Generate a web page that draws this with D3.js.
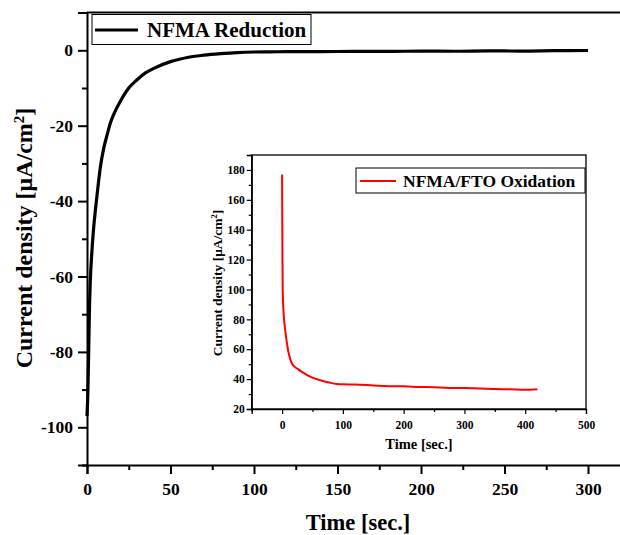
<!DOCTYPE html>
<html><head><meta charset="utf-8">
<script src="https://cdn.jsdelivr.net/npm/d3@7"></script>
<style>body{margin:0;background:#fff}svg{display:block}text{font-family:"Liberation Serif","Times New Roman",serif;font-weight:bold}</style>
</head><body><svg id="c" width="620" height="535"></svg>
<script>
// Main series: NFMA Reduction
const mainTime = [0,0.5,1,1.5,2,3,4,5,6,7,8,10,12,14,16,20,25,30,35,40,50,56,60,70,80,90,100,110,120,140,160,180,200,220,240,260,280,300];
const mainCurrent = [-97,-91,-80,-68,-61,-53,-47,-42.5,-38.5,-34.5,-31,-26,-22.5,-19.3,-17,-13.5,-10,-7.8,-6,-4.8,-3,-2.3,-1.9,-1.3,-0.9,-0.6,-0.45,-0.4,-0.35,-0.35,-0.3,-0.3,-0.2,-0.25,-0.15,-0.2,-0.1,-0.05];
const mainXTicks = [0,50,100,150,200,250,300];
const mainYTicks = [0,-20,-40,-60,-80,-100];
// Inset series: NFMA/FTO Oxidation
const insetTime = [0,0.3,0.6,1,2,3,4,6,8,10,13,16,20,25,30,40,50,60,70,80,90,100,120,150,175,200,225,250,275,300,325,350,375,400,420];
const insetCurrent = [177,150,120,100,88,81,77,70,64,59,54,50.5,48.5,47,45.5,43,41,39.6,38.4,37.5,36.8,36.5,36.4,35.8,35.3,35.2,34.8,34.5,34.1,34,33.8,33.4,33.2,32.9,33.3];
const insetXTicks = [0,100,200,300,400,500];
const insetYTicks = [20,40,60,80,100,120,140,160,180];

const svg = d3.select("#c");
const fmt = d => String(d);

// ---------- main plot ----------
const x = d3.scaleLinear().domain([0,320]).range([87,621.4]);
const y = d3.scaleLinear().domain([-110,10]).range([465,12.6]);

svg.append("line").attr("x1",87).attr("x2",620).attr("y1",y(10)).attr("y2",y(10)).attr("stroke","#000").attr("stroke-width",2);

const xAx = svg.append("g").attr("transform","translate(0,465)")
  .call(d3.axisBottom(x).tickValues(mainXTicks).tickSize(9).tickFormat(fmt));
svg.append("g").attr("transform","translate(0,465)")
  .call(d3.axisBottom(x).tickValues([25,75,125,175,225,275]).tickSize(5).tickFormat(""))
  .call(g=>g.select(".domain").remove());
const yAx = svg.append("g").attr("transform","translate(87,0)")
  .call(d3.axisLeft(y).tickValues(mainYTicks).tickSize(9).tickFormat(fmt));
svg.append("g").attr("transform","translate(87,0)")
  .call(d3.axisLeft(y).tickValues([-110,-90,-70,-50,-30,-10]).tickSize(5).tickFormat(""))
  .call(g=>g.select(".domain").remove());
svg.selectAll(".domain").attr("stroke-width",2);
svg.selectAll(".tick line").attr("stroke-width",2);
[xAx,yAx].forEach(g=>g.selectAll("text").attr("fill","#000").style("font-size","17.5px"));
xAx.selectAll("text").attr("y",30).attr("dy",0);
yAx.selectAll("text").attr("x",-14);

const line = d3.line().x((d,i)=>x(mainTime[i])).y(d=>y(d)).curve(d3.curveMonotoneX);
svg.append("path").attr("d",line(mainCurrent)).attr("fill","none").attr("stroke","#000").attr("stroke-width",3.2);

// main legend
svg.append("rect").attr("x",92).attr("y",14.5).attr("width",219).attr("height",30).attr("fill","#fff").attr("stroke","#000").attr("stroke-width",1);
svg.append("line").attr("x1",95).attr("x2",138).attr("y1",30).attr("y2",30).attr("stroke","#000").attr("stroke-width",3.2);
svg.append("text").attr("x",147).attr("y",37).style("font-size","21px").text("NFMA Reduction");

// titles
svg.append("text").attr("x",358).attr("y",530).attr("text-anchor","middle").style("font-size","22.5px").text("Time [sec.]");
svg.append("text").attr("transform","translate(32,238) rotate(-90)").attr("text-anchor","middle").style("font-size","24px")
  .html('Current density [μA/cm<tspan dy="-8" style="font-size:15px">2</tspan><tspan dy="8">]</tspan>');

// ---------- inset ----------
const ix = d3.scaleLinear().domain([-50,500]).range([251.7,586]);
const iy = d3.scaleLinear().domain([20,190]).range([409,155]);
const ins = svg.append("g");
ins.append("rect").attr("x",251.7).attr("y",155).attr("width",586-251.7).attr("height",409-155).attr("fill","#fff").attr("stroke","#000").attr("stroke-width",1.3);
const ixAx = ins.append("g").attr("transform","translate(0,409)")
  .call(d3.axisBottom(ix).tickValues(insetXTicks).tickSize(5).tickFormat(fmt));
ins.append("g").attr("transform","translate(0,409)")
  .call(d3.axisBottom(ix).tickValues([-50,50,150,250,350,450]).tickSize(3).tickFormat(""))
  .call(g=>g.select(".domain").remove());
const iyAx = ins.append("g").attr("transform","translate(251.7,0)")
  .call(d3.axisLeft(iy).tickValues(insetYTicks).tickSize(5).tickFormat(fmt));
ins.append("g").attr("transform","translate(251.7,0)")
  .call(d3.axisLeft(iy).tickValues([30,50,70,90,110,130,150,170,190]).tickSize(3).tickFormat(""))
  .call(g=>g.select(".domain").remove());
ins.selectAll(".tick line").attr("stroke-width",1.2);
ins.selectAll(".domain").attr("stroke-width",1.3);
[ixAx,iyAx].forEach(g=>g.selectAll("text").attr("fill","#000").style("font-size","11.5px"));
ixAx.selectAll("text").attr("y",12).attr("dy","0.71em");
iyAx.selectAll("text").attr("x",-7);

const iline = d3.line().x((d,i)=>ix(insetTime[i])).y(d=>iy(d)).curve(d3.curveMonotoneX);
ins.append("path").attr("d",iline(insetCurrent)).attr("fill","none").attr("stroke","#ff0000").attr("stroke-width",2);

ins.append("rect").attr("x",356).attr("y",168).attr("width",229).attr("height",25).attr("fill","#fff").attr("stroke","#000").attr("stroke-width",1);
ins.append("line").attr("x1",360).attr("x2",396).attr("y1",181).attr("y2",181).attr("stroke","#ff0000").attr("stroke-width",2);
ins.append("text").attr("x",403).attr("y",187).style("font-size","17.5px").text("NFMA/FTO Oxidation");

ins.append("text").attr("x",419).attr("y",449).attr("text-anchor","middle").style("font-size","14.5px").text("Time [sec.]");
ins.append("text").attr("transform","translate(222,283) rotate(-90)").attr("text-anchor","middle").style("font-size","13.5px")
  .html('Current density [μA/cm<tspan dy="-5" style="font-size:8.5px">2</tspan><tspan dy="5">]</tspan>');
</script></body></html>
